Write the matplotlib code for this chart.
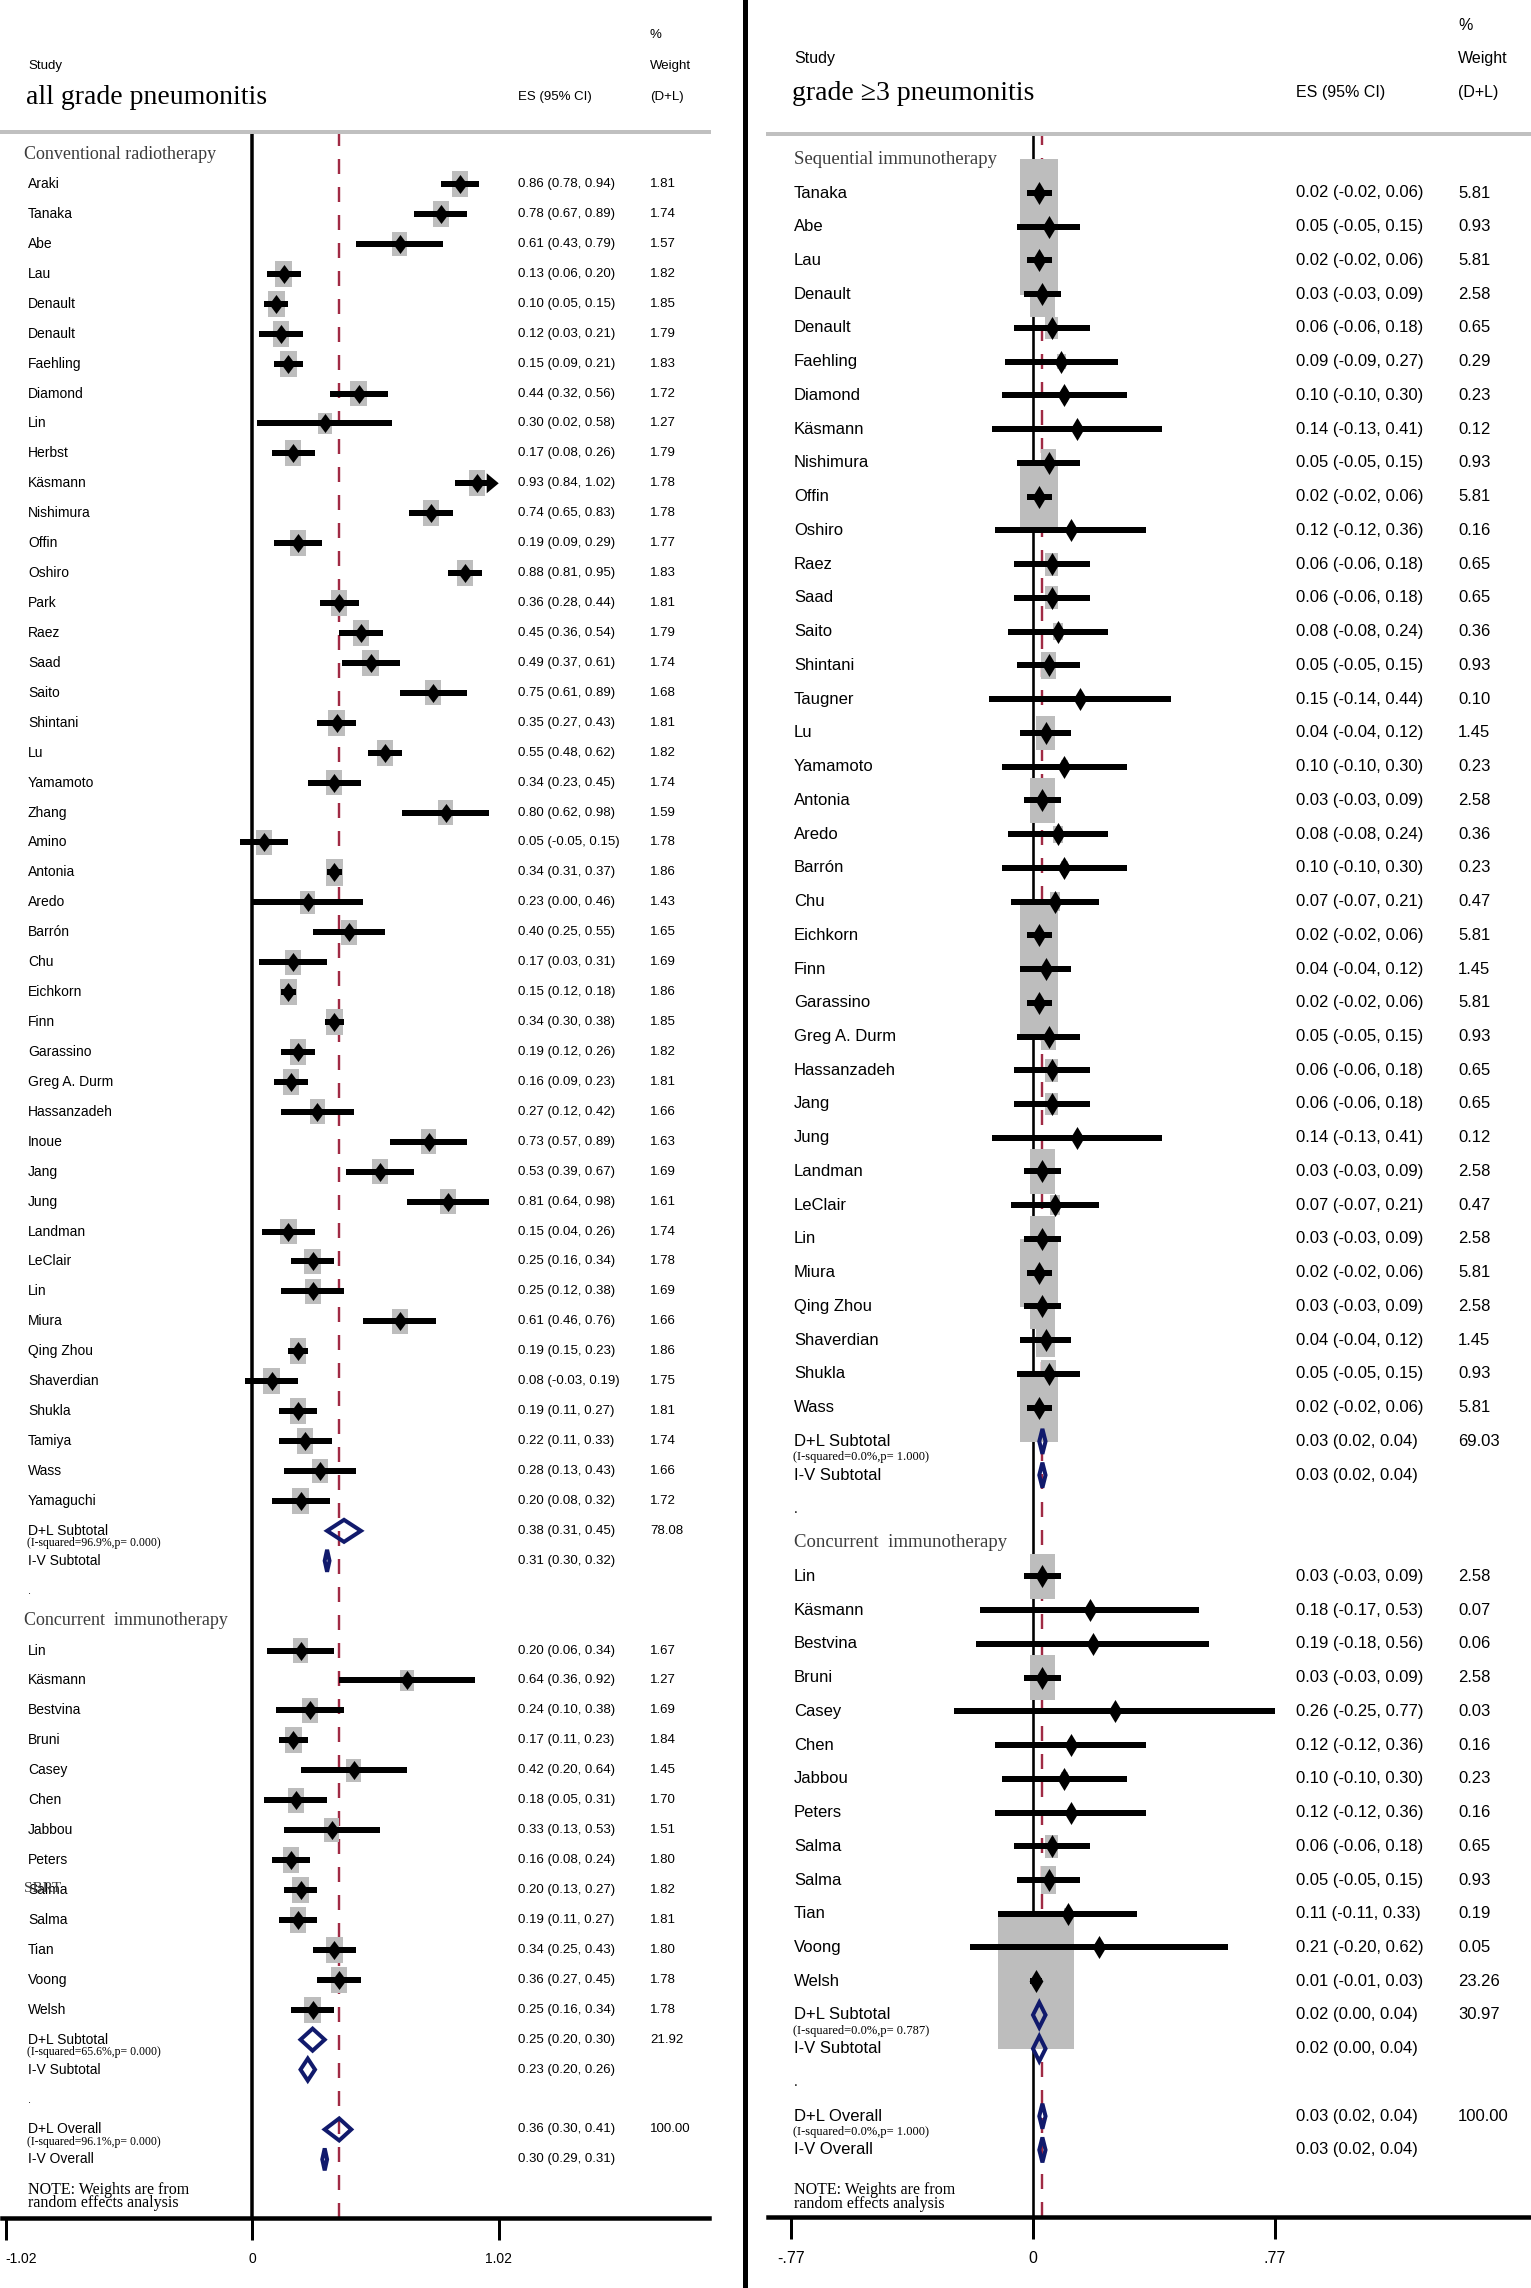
import numpy as np
import matplotlib
matplotlib.use("Agg")
import matplotlib.pyplot as plt
from matplotlib import font_manager, transforms
from matplotlib.patches import Rectangle, Polygon

# ---------------- data: all grade pneumonitis ----------------
conv_names = ["Araki", "Tanaka", "Abe", "Lau", "Denault", "Denault", "Faehling", "Diamond",
              "Lin", "Herbst", "Käsmann", "Nishimura", "Offin", "Oshiro", "Park", "Raez",
              "Saad", "Saito", "Shintani", "Lu", "Yamamoto", "Zhang", "Amino", "Antonia",
              "Aredo", "Barrón", "Chu", "Eichkorn", "Finn", "Garassino", "Greg A. Durm",
              "Hassanzadeh", "Inoue", "Jang", "Jung", "Landman", "LeClair", "Lin", "Miura",
              "Qing Zhou", "Shaverdian", "Shukla", "Tamiya", "Wass", "Yamaguchi"]
conv_es = [0.86, 0.78, 0.61, 0.13, 0.10, 0.12, 0.15, 0.44, 0.30, 0.17, 0.93, 0.74, 0.19, 0.88,
           0.36, 0.45, 0.49, 0.75, 0.35, 0.55, 0.34, 0.80, 0.05, 0.34, 0.23, 0.40, 0.17, 0.15,
           0.34, 0.19, 0.16, 0.27, 0.73, 0.53, 0.81, 0.15, 0.25, 0.25, 0.61, 0.19, 0.08, 0.19,
           0.22, 0.28, 0.20]
conv_lo = [0.78, 0.67, 0.43, 0.06, 0.05, 0.03, 0.09, 0.32, 0.02, 0.08, 0.84, 0.65, 0.09, 0.81,
           0.28, 0.36, 0.37, 0.61, 0.27, 0.48, 0.23, 0.62, -0.05, 0.31, 0.00, 0.25, 0.03, 0.12,
           0.30, 0.12, 0.09, 0.12, 0.57, 0.39, 0.64, 0.04, 0.16, 0.12, 0.46, 0.15, -0.03, 0.11,
           0.11, 0.13, 0.08]
conv_hi = [0.94, 0.89, 0.79, 0.20, 0.15, 0.21, 0.21, 0.56, 0.58, 0.26, 1.02, 0.83, 0.29, 0.95,
           0.44, 0.54, 0.61, 0.89, 0.43, 0.62, 0.45, 0.98, 0.15, 0.37, 0.46, 0.55, 0.31, 0.18,
           0.38, 0.26, 0.23, 0.42, 0.89, 0.67, 0.98, 0.26, 0.34, 0.38, 0.76, 0.23, 0.19, 0.27,
           0.33, 0.43, 0.32]
conv_wt = [1.81, 1.74, 1.57, 1.82, 1.85, 1.79, 1.83, 1.72, 1.27, 1.79, 1.78, 1.78, 1.77, 1.83,
           1.81, 1.79, 1.74, 1.68, 1.81, 1.82, 1.74, 1.59, 1.78, 1.86, 1.43, 1.65, 1.69, 1.86,
           1.85, 1.82, 1.81, 1.66, 1.63, 1.69, 1.61, 1.74, 1.78, 1.69, 1.66, 1.86, 1.75, 1.81,
           1.74, 1.66, 1.72]
conv_dl = (0.38, 0.31, 0.45, 78.08, "96.9%", "0.000")
conv_iv = (0.31, 0.30, 0.32)

conc_names = ["Lin", "Käsmann", "Bestvina", "Bruni", "Casey", "Chen", "Jabbou", "Peters",
              "Salma", "Salma", "Tian", "Voong", "Welsh"]
conc_es = [0.20, 0.64, 0.24, 0.17, 0.42, 0.18, 0.33, 0.16, 0.20, 0.19, 0.34, 0.36, 0.25]
conc_lo = [0.06, 0.36, 0.10, 0.11, 0.20, 0.05, 0.13, 0.08, 0.13, 0.11, 0.25, 0.27, 0.16]
conc_hi = [0.34, 0.92, 0.38, 0.23, 0.64, 0.31, 0.53, 0.24, 0.27, 0.27, 0.43, 0.45, 0.34]
conc_wt = [1.67, 1.27, 1.69, 1.84, 1.45, 1.70, 1.51, 1.80, 1.82, 1.81, 1.80, 1.78, 1.78]
conc_dl = (0.25, 0.20, 0.30, 21.92, "65.6%", "0.000")
conc_iv = (0.23, 0.20, 0.26)

all_dl = (0.36, 0.30, 0.41, 100.00, "96.1%", "0.000")
all_iv = (0.30, 0.29, 0.31)

# ---------------- data: grade >=3 pneumonitis ----------------
seq_names = ["Tanaka", "Abe", "Lau", "Denault", "Denault", "Faehling", "Diamond", "Käsmann",
             "Nishimura", "Offin", "Oshiro", "Raez", "Saad", "Saito", "Shintani", "Taugner",
             "Lu", "Yamamoto", "Antonia", "Aredo", "Barrón", "Chu", "Eichkorn", "Finn",
             "Garassino", "Greg A. Durm", "Hassanzadeh", "Jang", "Jung", "Landman", "LeClair",
             "Lin", "Miura", "Qing Zhou", "Shaverdian", "Shukla", "Wass"]
seq_es = [0.02, 0.05, 0.02, 0.03, 0.06, 0.09, 0.10, 0.14, 0.05, 0.02, 0.12, 0.06, 0.06, 0.08,
          0.05, 0.15, 0.04, 0.10, 0.03, 0.08, 0.10, 0.07, 0.02, 0.04, 0.02, 0.05, 0.06, 0.06,
          0.14, 0.03, 0.07, 0.03, 0.02, 0.03, 0.04, 0.05, 0.02]
seq_lo = [-0.02, -0.05, -0.02, -0.03, -0.06, -0.09, -0.10, -0.13, -0.05, -0.02, -0.12, -0.06,
          -0.06, -0.08, -0.05, -0.14, -0.04, -0.10, -0.03, -0.08, -0.10, -0.07, -0.02, -0.04,
          -0.02, -0.05, -0.06, -0.06, -0.13, -0.03, -0.07, -0.03, -0.02, -0.03, -0.04, -0.05,
          -0.02]
seq_hi = [0.06, 0.15, 0.06, 0.09, 0.18, 0.27, 0.30, 0.41, 0.15, 0.06, 0.36, 0.18, 0.18, 0.24,
          0.15, 0.44, 0.12, 0.30, 0.09, 0.24, 0.30, 0.21, 0.06, 0.12, 0.06, 0.15, 0.18, 0.18,
          0.41, 0.09, 0.21, 0.09, 0.06, 0.09, 0.12, 0.15, 0.06]
seq_wt = [5.81, 0.93, 5.81, 2.58, 0.65, 0.29, 0.23, 0.12, 0.93, 5.81, 0.16, 0.65, 0.65, 0.36,
          0.93, 0.10, 1.45, 0.23, 2.58, 0.36, 0.23, 0.47, 5.81, 1.45, 5.81, 0.93, 0.65, 0.65,
          0.12, 2.58, 0.47, 2.58, 5.81, 2.58, 1.45, 0.93, 5.81]
seq_dl = (0.03, 0.02, 0.04, 69.03, "0.0%", "1.000")
seq_iv = (0.03, 0.02, 0.04)

conc3_names = ["Lin", "Käsmann", "Bestvina", "Bruni", "Casey", "Chen", "Jabbou", "Peters",
               "Salma", "Salma", "Tian", "Voong", "Welsh"]
conc3_es = [0.03, 0.18, 0.19, 0.03, 0.26, 0.12, 0.10, 0.12, 0.06, 0.05, 0.11, 0.21, 0.01]
conc3_lo = [-0.03, -0.17, -0.18, -0.03, -0.25, -0.12, -0.10, -0.12, -0.06, -0.05, -0.11, -0.20, -0.01]
conc3_hi = [0.09, 0.53, 0.56, 0.09, 0.77, 0.36, 0.30, 0.36, 0.18, 0.15, 0.33, 0.62, 0.03]
conc3_wt = [2.58, 0.07, 0.06, 2.58, 0.03, 0.16, 0.23, 0.16, 0.65, 0.93, 0.19, 0.05, 23.26]
conc3_dl = (0.02, 0.00, 0.04, 30.97, "0.0%", "0.787")
conc3_iv = (0.02, 0.00, 0.04)

all3_dl = (0.03, 0.02, 0.04, 100.00, "0.0%", "1.000")
all3_iv = (0.03, 0.02, 0.04)

left_ticks = [-1.02, 0, 1.02]
left_ticklabels = ["-1.02", "0", "1.02"]
right_ticks = [-0.77, 0, 0.77]
right_ticklabels = ["-.77", "0", ".77"]

# ---------------- style ----------------
W, H, DPI = 1531, 2288, 100
PT = 72.0 / DPI  # points per pixel
plt.rcParams["lines.scale_dashes"] = False

avail = {f.name for f in font_manager.fontManager.ttflist}
SANS = ["Liberation Sans Narrow"] if "Liberation Sans Narrow" in avail else ["Liberation Sans"]
SANS = SANS + ["DejaVu Sans"]
SERIF = ["Liberation Serif", "DejaVu Serif"]

GREY_BOX = "#bdbdbd"
NAVY = "#111a6c"
MAROON = "#a02a44"
HDR_GREY = "#3c3c3c"

fig = plt.figure(figsize=(W / DPI, H / DPI), dpi=DPI)


def fmt_ci(es, lo, hi):
    return f"{es:.2f} ({lo:.2f}, {hi:.2f})"


def draw_panel(cfg, groups, overall_dl, overall_iv, ticks, ticklabels):
    x0, x1, y0, y1 = cfg["ax_px"]
    ax = fig.add_axes([x0 / W, 1 - y1 / H, (x1 - x0) / W, (y1 - y0) / H])
    ax.set_xlim(*cfg["xlim"])
    ppu = (x1 - x0) / (cfg["xlim"][1] - cfg["xlim"][0])
    rpx = cfg["row_px"]
    ax.set_ylim((y1 - cfg["row0"]) / rpx, (y0 - cfg["row0"]) / rpx)
    ax.set_facecolor("none")

    for s in ("left", "right"):
        ax.spines[s].set_visible(False)
    ax.spines["top"].set_color("#c0c0c0")
    ax.spines["top"].set_linewidth(4 * PT)
    ax.spines["bottom"].set_linewidth(4.5 * PT)
    ax.set_yticks([])
    ax.set_xticks(ticks)
    ax.set_xticklabels(ticklabels, family=SANS, fontsize=cfg["tick_fs"])
    ax.tick_params(axis="x", length=22 * PT, width=3 * PT, pad=12 * PT)
    if cfg.get("first_tick_left"):
        ax.get_xticklabels()[0].set_ha("left")

    ax.axvline(0, color="black", lw=cfg["zero_lw"] * PT, zorder=1)
    ax.axvline(overall_dl[0], color=MAROON, lw=2.4 * PT, zorder=1,
               dashes=(15 * PT, 13 * PT))

    tr = transforms.blended_transform_factory(fig.transFigure, ax.transData)
    fs = cfg["fs"]

    def label(xpx, row, s, **kw):
        kw.setdefault("family", SANS)
        kw.setdefault("fontsize", fs)
        ax.text(xpx / W, row, s, transform=tr, va="center", ha="left", clip_on=False, **kw)

    def summary(row, vals, name, isq=None):
        es, lo, hi = vals[:3]
        hh = cfg["sum_h"] / rpx / 2
        ax.add_patch(Polygon([(lo, row), (es, row - hh), (hi, row), (es, row + hh)],
                             closed=True, facecolor="none", edgecolor=NAVY,
                             lw=4 * PT, joinstyle="miter", zorder=5))
        label(cfg["name_x"], row, name)
        label(cfg["es_x"], row, fmt_ci(es, lo, hi), fontsize=cfg["es_fs"])
        if isq is not None:
            label(cfg["name_x"] - 1, row + cfg["isq_off"],
                  f"(I-squared={isq[0]},p= {isq[1]})", family=SERIF, fontsize=cfg["isq_fs"])
            label(cfg["wt_x"], row, f"{vals[3]:.2f}", fontsize=cfg["es_fs"])

    row = -1
    tip = cfg.get("arrow_at")
    for g in groups:
        label(cfg["hdr_x"], row, g["title"], family=SERIF, fontsize=cfg["grp_fs"], color=HDR_GREY)
        row += 1
        for i, (n, es, lo, hi, w) in enumerate(zip(g["names"], g["es"], g["lo"], g["hi"], g["wt"])):
            r = row + i
            bw = cfg["box_kx"] * np.sqrt(w) / ppu
            bh = cfg["box_ky"] * np.sqrt(w) / rpx
            ax.add_patch(Rectangle((es - bw / 2, r - bh / 2), bw, bh,
                                   facecolor=GREY_BOX, edgecolor="none", zorder=2))
            end = hi
            if tip is not None and hi >= tip:
                end = hi - 12 / ppu
                ah = 10 / rpx
                ax.add_patch(Polygon([(end, r - ah), (hi, r), (end, r + ah)],
                                     closed=True, facecolor="black", edgecolor="none", zorder=3))
            ax.hlines(r, lo, end, color="black", lw=6 * PT, zorder=3, capstyle="butt")
            ax.plot([es], [r], marker=cfg["marker"], color="black", ms=cfg["ms"] * PT,
                    mew=0, zorder=4, clip_on=False)
            label(cfg["name_x"], r, n)
            label(cfg["es_x"], r, fmt_ci(es, lo, hi), fontsize=cfg["es_fs"])
            label(cfg["wt_x"], r, f"{w:.2f}", fontsize=cfg["es_fs"])
            if g.get("overlay") and g["overlay"][1] == i:
                label(cfg["hdr_x"], r - 0.05, g["overlay"][0], family=SERIF,
                      fontsize=cfg["grp_fs"] - 2, color=HDR_GREY)
        row += len(g["names"])
        summary(row, g["dl"], "D+L Subtotal", g["dl"][4:])
        summary(row + 1, g["iv"], "I-V Subtotal")
        label(cfg["name_x"], row + 2, ".", fontsize=fs - 2)
        row += 3
    summary(row, overall_dl, "D+L Overall", overall_dl[4:])
    summary(row + 1, overall_iv, "I-V Overall")
    nr = row + 2
    label(cfg["name_x"], nr + cfg["note_off"][0], "NOTE: Weights are from",
          family=SERIF, fontsize=cfg["note_fs"])
    label(cfg["name_x"], nr + cfg["note_off"][1], "random effects analysis",
          family=SERIF, fontsize=cfg["note_fs"])

    # column headers above the plot
    def head(xpx, ypx, s, **kw):
        kw.setdefault("family", SANS)
        kw.setdefault("fontsize", cfg["head_fs"])
        fig.text(xpx / W, 1 - ypx / H, s, va="center", ha="left", **kw)

    hy = cfg["head_y"]
    head(cfg["wt_x"], hy[0], "%")
    head(cfg["name_x"], hy[1], "Study")
    head(cfg["wt_x"], hy[1], "Weight")
    head(cfg["name_x"] - 2, hy[2], cfg["title"], family=SERIF, fontsize=cfg["title_fs"])
    head(cfg["es_x"], hy[2], "ES (95% CI)")
    head(cfg["wt_x"], hy[2], "(D+L)")
    return ax


diam_left = [(-0.37, 0), (0, 0.5), (0.37, 0), (0, -0.5)]
diam_right = [(-0.3, 0), (0, 0.5), (0.3, 0), (0, -0.5)]

left_cfg = dict(ax_px=(2, 709, 132, 2218), xlim=(-1.035, 1.89), row0=184, row_px=29.93,
                fs=10, es_fs=9.5, head_fs=9.5, title_fs=20, grp_fs=13, isq_fs=8.5,
                note_fs=11.5, tick_fs=10, name_x=28, es_x=518, wt_x=650, hdr_x=24,
                box_kx=12.3, box_ky=19.3, marker=diam_left, ms=19, sum_h=22,
                isq_off=0.42, note_off=(0.03, 0.46), zero_lw=3.5, arrow_at=1.02,
                head_y=(35, 66, 97), title="all grade pneumonitis", first_tick_left=True)
right_cfg = dict(ax_px=(768, 1530, 134, 2217), xlim=(-0.844, 1.583), row0=193, row_px=33.74,
                 fs=12, es_fs=12, head_fs=11.5, title_fs=20, grp_fs=13.5, isq_fs=9,
                 note_fs=11.5, tick_fs=11.5, name_x=794, es_x=1296, wt_x=1458, hdr_x=794,
                 box_kx=15.8, box_ky=28.3, marker=diam_right, ms=23, sum_h=25,
                 isq_off=0.47, note_off=(0.2, 0.6), zero_lw=2.6,
                 head_y=(25, 58, 93), title="grade ≥3 pneumonitis")

left_groups = [
    dict(title="Conventional radiotherapy", names=conv_names, es=conv_es, lo=conv_lo,
         hi=conv_hi, wt=conv_wt, dl=conv_dl, iv=conv_iv),
    dict(title="Concurrent  immunotherapy", names=conc_names, es=conc_es, lo=conc_lo,
         hi=conc_hi, wt=conc_wt, dl=conc_dl, iv=conc_iv, overlay=("SBRT", 8)),
]
right_groups = [
    dict(title="Sequential immunotherapy", names=seq_names, es=seq_es, lo=seq_lo,
         hi=seq_hi, wt=seq_wt, dl=seq_dl, iv=seq_iv),
    dict(title="Concurrent  immunotherapy", names=conc3_names, es=conc3_es, lo=conc3_lo,
         hi=conc3_hi, wt=conc3_wt, dl=conc3_dl, iv=conc3_iv),
]

draw_panel(left_cfg, left_groups, all_dl, all_iv, left_ticks, left_ticklabels)
draw_panel(right_cfg, right_groups, all3_dl, all3_iv, right_ticks, right_ticklabels)

# separator between the two panels
fig.add_artist(plt.Line2D([744.5 / W, 744.5 / W], [0, 1], color="black", lw=5 * PT))

fig.savefig("out.png", dpi=DPI)
plt.close(fig)
